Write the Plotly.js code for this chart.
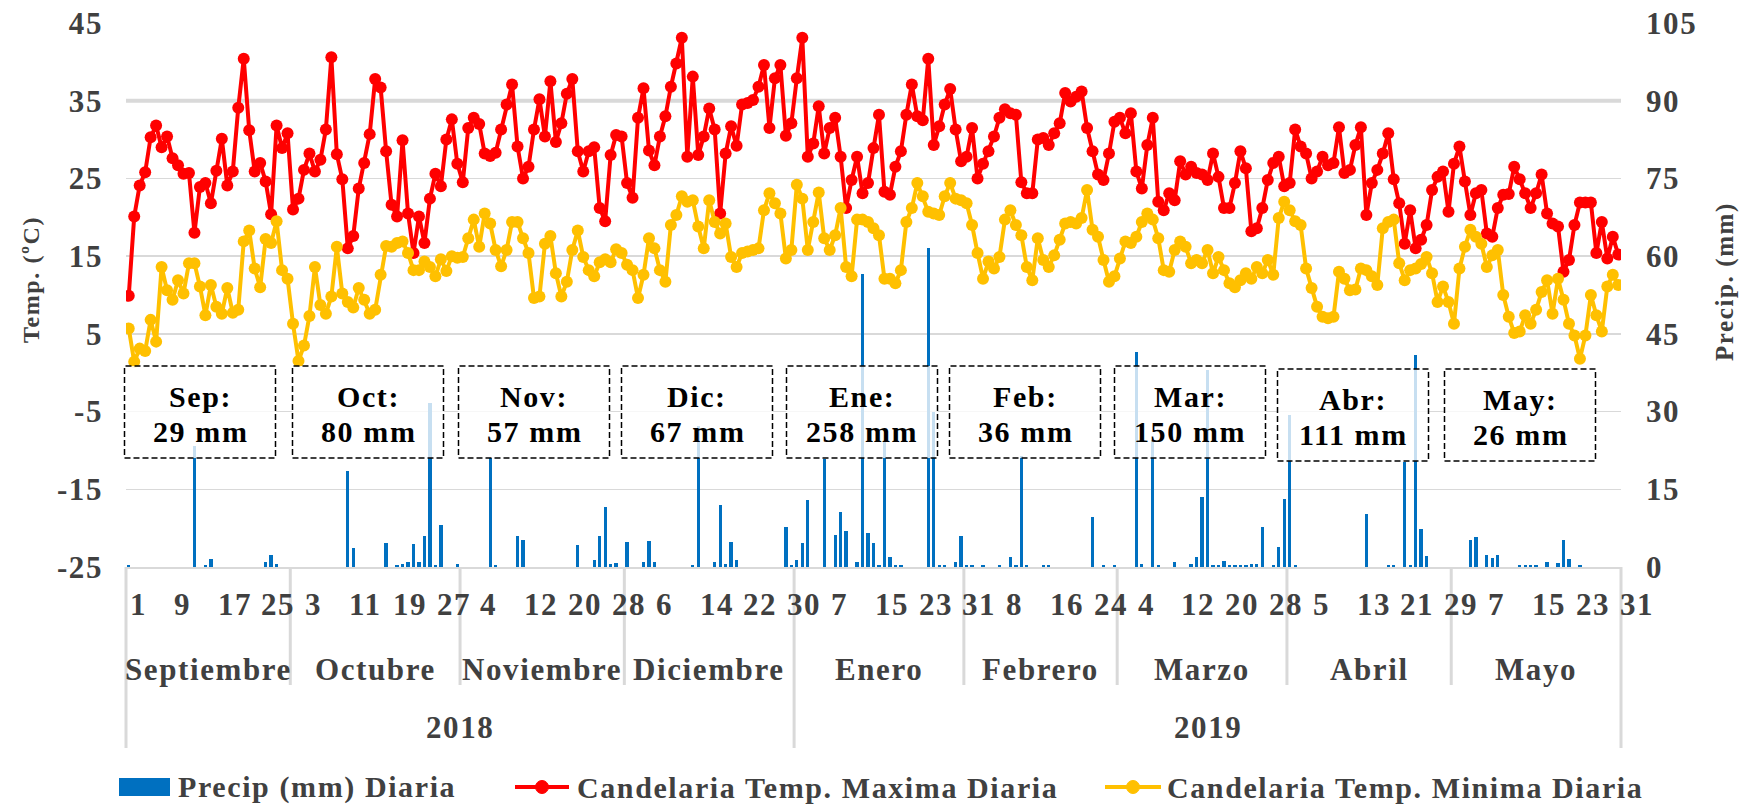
<!DOCTYPE html>
<html><head><meta charset="utf-8">
<script src="https://cdn.plot.ly/plotly-3.0.1.min.js"></script>
<style>
html,body{margin:0;padding:0;background:#fff}
#chart{width:1755px;height:804px}
svg text{font-family:"Liberation Serif",serif !important;letter-spacing:1.6px;}
</style>
</head><body><div id="chart"></div>
<script>
// ---------------- DATA ----------------
const monthNames = ['Septiembre','Octubre','Noviembre','Diciembre','Enero','Febrero','Marzo','Abril','Mayo'];
const monthDays  = [30,31,30,31,31,28,31,30,31];
const yearNames  = ['2018','2019'];
const yearMonths = [4,5];
const boxLabels  = ['Sep:','Oct:','Nov:','Dic:','Ene:','Feb:','Mar:','Abr:','May:'];
const boxTotals  = ['29 mm','80 mm','57 mm','67 mm','258 mm','36 mm','150 mm','111 mm','26 mm'];
const seriesNames = ['Precip (mm) Diaria','Candelaria Temp. Maxima Diaria','Candelaria Temp. Minima Diaria'];
const tempTicks  = [-25,-15,-5,5,15,25,35,45];
const tempTickText = ['-25','-15','-5','5','15','25','35','45'];
const precTicks  = [0,15,30,45,60,75,90,105];

// Daily precipitation (mm), Sep 1 2018 .. May 31 2019
const precip = [
 0.4,0,0,0,0,0,0,0,0,0, 0,0,23.4,0,0.3,1.6,0,0,0,0, 0,0,0,0,0,1.0,2.3,0.5,0,0,
 0,0,0,0,0,0,0,0,0,0, 18.5,3.6,0,0,0,0,0,4.7,0,0.3, 0.6,0.9,4.4,0.9,6.0,31.7,0.3,8.1,0,0, 0.6,
 0,0,0,0,0,21.0,0.3,0,0,0, 5.9,5.3,0,0,0,0,0,0,0,0, 0,4.2,0,0,1.4,5.9,11.5,0.5,0.8,0,
 4.8,0,0,1.0,5.0,1.0,0,0,0,0, 0,0,0.3,27.2,0,0,1.0,11.9,0.5,4.8, 1.4,0,0,0,0,0,0,0,0,7.8, 0.3,
 1.4,4.6,12.9,0,0,20.8,0,6.2,10.7,7.0, 0,1.0,56.6,6.6,4.7,0.3,24.2,1.9,0.3,0.3, 0,0,0,0,61.5,30.0,0.3,0.3,0,1.0, 5.9,
 0.3,0.3,0,0.3,0,0,0.3,0,2.0,0.3, 21.5,0.3,0,0,0.3,0.3,0,0,0,0, 0,0,0,9.6,0,0.3,0,0.3,
 0,0,0,41.5,0.6,0,24.5,0.3,0,0, 1.0,0,0,0.6,1.9,13.6,38.0,0.3,0.3,1.2, 0.3,0.3,0.3,0.3,0.5,0.5,7.8,0,0.3,3.9, 13.1,
 29.4,0.3,0,0,0,0,0,0,0,0, 0,0,0,0,10.2,0,0,0,0.3,0.3, 0,20.2,0.3,41.0,7.3,2.1,0,0,0,0,
 0,0,0,5.2,5.7,0,2.3,1.8,2.4,0, 0,0,0.3,0.3,0.3,0.3,0,1.0,0,0.8, 5.2,1.5,0,0.3,0,0,0,0,0,0, 0
];

// Daily maximum temperature (ºC)
const tmax = [
 9.9,20.1,24.1,25.8,30.3,31.8,29.0,30.4,27.6,26.7, 25.6,25.7,18.0,23.9,24.4,21.8,26.0,30.1,24.1,25.9, 34.1,40.4,31.2,25.9,27.0,24.6,20.4,31.8,28.9,30.8,
 21.0,22.4,26.1,28.2,25.9,27.4,31.3,40.6,28.1,24.9, 16.0,17.6,23.7,27.0,30.7,37.8,36.7,28.5,21.6,20.1, 29.9,20.5,15.4,20.1,16.7,22.4,25.6,24.0,30.0,32.6, 26.9,
 24.5,31.5,32.8,32.0,28.2,27.9,28.3,31.3,34.5,37.1, 29.1,25.0,26.5,31.3,35.2,30.4,37.5,29.7,32.1,35.9, 37.8,28.5,25.9,28.5,29.0,21.2,19.5,28.0,30.6,30.4,
 24.4,22.5,32.8,36.6,28.6,26.7,30.4,33.0,36.8,39.8, 43.1,27.8,38.1,28.0,30.4,34.0,31.3,20.5,28.2,31.7, 29.2,34.5,34.7,35.1,36.8,39.6,31.5,37.9,39.6,30.5, 32.1,
 37.9,43.1,27.8,29.5,34.3,28.2,31.5,32.8,27.8,21.2, 24.8,27.8,23.1,24.4,28.9,33.2,23.3,22.9,26.5,28.5, 33.2,37.1,33.0,32.5,40.4,29.3,31.7,34.5,36.5,31.3, 27.2,
 27.8,31.5,25.0,26.9,28.5,30.4,32.8,33.9,33.4,33.2, 24.5,23.1,23.1,30.0,30.2,29.3,30.8,32.1,36.0,34.9, 35.5,36.2,31.5,28.5,25.5,24.8,28.2,32.3,
 32.8,30.8,33.4,25.9,23.7,29.3,32.8,22.0,20.9,23.1, 22.2,27.2,25.5,26.5,25.7,25.5,24.8,28.2,25.2,21.2, 21.2,24.4,28.5,26.3,18.2,18.6,21.2,24.8,27.0,27.8, 24.0,
 24.4,31.3,29.1,28.2,25.0,25.9,27.8,26.7,27.0,31.6, 25.7,26.1,29.3,31.6,20.3,24.4,26.1,28.2,30.8,24.9, 21.8,16.6,20.9,16.0,17.1,19.0,23.5,25.2,25.9,20.7,
 26.9,29.1,24.6,20.3,23.1,23.5,17.9,17.5,21.2,22.9, 23.0,26.5,24.9,23.1,21.2,23.1,25.5,20.5,19.2,18.8, 13.0,14.5,19.0,21.9,21.9,21.9,15.4,19.4,14.7,17.5, 15.2
];

// Daily minimum temperature (ºC)
const tmin = [
 5.7,1.4,3.1,2.8,6.8,4.0,13.6,10.6,9.4,11.9, 10.2,14.1,14.1,11.1,7.4,11.3,8.5,7.6,10.9,7.7, 8.1,16.9,18.3,13.4,11.0,17.2,16.7,19.5,13.2,12.1,
 6.3,1.5,3.5,7.3,13.6,8.7,7.6,9.8,16.2,10.2, 9.1,8.4,10.9,9.4,7.6,8.1,12.6,16.3,16.2,16.7, 16.9,15.4,13.2,13.2,14.3,13.6,12.4,14.6,13.1,15.0, 14.8,
 14.9,17.3,19.7,16.2,20.5,19.2,15.8,13.7,15.8,19.4, 19.4,17.3,15.4,9.6,9.8,16.6,17.6,12.8,9.8,11.7, 15.8,18.3,14.9,13.2,12.4,14.2,14.6,14.2,15.9,15.4,
 13.9,13.2,9.6,12.6,17.3,16.0,13.2,11.7,19.0,20.3, 22.7,22.0,22.2,18.8,16.0,22.2,19.4,17.9,19.2,14.9, 13.6,15.4,15.6,15.8,16.0,20.9,23.1,21.8,20.5,14.7, 15.8,
 24.2,22.4,15.8,19.4,23.2,17.3,15.8,17.7,21.2,13.6, 12.4,19.7,19.7,19.4,18.6,17.7,12.1,12.1,11.5,13.2, 19.4,21.2,24.4,22.7,20.7,20.5,20.3,22.7,24.4,22.4, 22.2,
 21.8,19.0,15.4,12.1,14.3,13.4,14.9,19.7,20.9,19.0, 17.7,13.6,11.9,17.3,14.5,13.6,15.1,17.1,19.2,19.4, 19.2,19.9,23.5,18.4,17.5,14.5,11.7,12.4,
 14.7,16.9,16.7,17.5,19.4,20.5,19.7,17.3,13.2,13.0, 15.8,16.9,16.2,14.1,14.5,14.1,15.8,12.8,14.9,13.2, 11.5,11.0,11.9,12.8,12.1,13.6,12.8,14.5,12.6,19.9, 22.0,
 20.9,19.5,19.0,13.4,10.9,8.5,7.2,7.0,7.2,13.0, 12.1,10.6,10.7,13.4,13.2,12.4,11.3,18.6,19.4,19.7, 14.1,11.9,13.2,13.4,14.0,14.9,12.8,9.1,11.1,9.1,
 6.3,13.4,16.2,18.4,17.5,16.6,13.6,15.1,15.8,10.0, 7.2,5.1,5.3,7.4,6.3,8.1,10.4,11.9,7.6,12.1, 9.4,6.3,4.8,1.8,4.8,10.0,7.4,5.3,11.1,12.6, 11.3
];

// ---------------- BUILD ----------------
const FONT = 'Liberation Serif';
const GREY = '#404040';
const BLUE = '#0070C0', RED = '#FF0000', YEL = '#FFC000';
const dayOfMonth = [];
const monthStart = [];
monthDays.forEach(n => { monthStart.push(dayOfMonth.length); for (let d = 1; d <= n; d++) dayOfMonth.push(d); });
const N = dayOfMonth.length;
const xs = dayOfMonth.map((_, i) => i);

// plot geometry (px)
const W = 1755, H = 804;
const M = {l: 126, r: 134, t: 23, b: 237};
const PW = W - M.l - M.r, PH = H - M.t - M.b;
const px2x = p => (p - M.l) / PW;
const py2y = p => (H - M.b - p) / PH;
const bold = (size, color) => ({family: FONT, size: size, color: color || GREY, weight: 'bold'});

const traces = [
  {type: 'bar', x: xs, y: precip, yaxis: 'y', name: seriesNames[0],
   marker: {color: BLUE}, width: 0.6, showlegend: false},
  {type: 'scatter', mode: 'lines+markers', x: xs, y: tmax, yaxis: 'y2', name: seriesNames[1],
   line: {color: RED, width: 4}, marker: {color: RED, size: 12}, showlegend: false},
  {type: 'scatter', mode: 'lines+markers', x: xs, y: tmin, yaxis: 'y2', name: seriesNames[2],
   line: {color: YEL, width: 4}, marker: {color: YEL, size: 12}, showlegend: false}
];

const shapes = [];
const annotations = [];

// thicker grid line at 90 mm / 35 ºC
shapes.push({type: 'line', xref: 'paper', yref: 'y', x0: 0, x1: 1, y0: 90, y1: 90,
  line: {color: '#d9d9d9', width: 4}, layer: 'below'});

// month / year dividers below the axis
const yearStarts = [0];
let acc = 0;
yearMonths.forEach(c => { acc += c; yearStarts.push(acc < monthStart.length ? monthStart[acc] : N); });
monthStart.concat([N]).forEach(k => {
  const isYear = yearStarts.includes(k);
  shapes.push({type: 'line', xref: 'paper', yref: 'paper', x0: k / N, x1: k / N,
    y0: 0, y1: py2y(isYear ? 748 : 685), line: {color: '#d9d9d9', width: 3}, layer: 'below'});
});

// day tick labels every 8 days
for (let i = 0; i < N; i += 8) {
  annotations.push({xref: 'x', yref: 'paper', x: i - 0.5, y: py2y(604), xanchor: 'left', yanchor: 'middle',
    text: String(dayOfMonth[i]), showarrow: false, xshift: 2, font: bold(31)});
}
// month labels
monthNames.forEach((m, j) => {
  const c = monthStart[j] + (monthDays[j] - 1) / 2;
  annotations.push({xref: 'x', yref: 'paper', x: c, y: py2y(669), xanchor: 'center', yanchor: 'middle',
    text: m, showarrow: false, font: bold(31)});
});
// year labels
let mi = 0;
yearNames.forEach((yname, j) => {
  const s = monthStart[mi];
  mi += yearMonths[j];
  const e = mi < monthStart.length ? monthStart[mi] : N;
  annotations.push({xref: 'x', yref: 'paper', x: (s + e - 1) / 2, y: py2y(727), xanchor: 'center', yanchor: 'middle',
    text: yname, showarrow: false, font: bold(31)});
});

// monthly total boxes
const boxCentersPx = [200, 368, 534, 697, 862, 1025, 1190, 1353, 1520];
boxLabels.forEach((lab, j) => {
  const cx = boxCentersPx[j], half = 75.5;
  const off = j >= 7 ? 3 : 0;
  const top = 366 + off, bot = 458 + off;
  shapes.push({type: 'rect', xref: 'paper', yref: 'paper', x0: px2x(cx - half), x1: px2x(cx + half),
    y0: py2y(bot), y1: py2y(top), fillcolor: 'rgba(255,255,255,0.78)',
    line: {color: '#000', width: 1.5, dash: '6px,3px'}, layer: 'above'});
  annotations.push({xref: 'paper', yref: 'paper', x: px2x(cx), y: py2y(396 + off),
    xanchor: 'center', yanchor: 'middle', showarrow: false, text: lab, font: bold(30, '#000')});
  annotations.push({xref: 'paper', yref: 'paper', x: px2x(cx), y: py2y(431 + off),
    xanchor: 'center', yanchor: 'middle', showarrow: false, text: boxTotals[j], font: bold(30, '#000')});
});

// axis titles
annotations.push({xref: 'paper', yref: 'paper', x: px2x(31), y: py2y(280), textangle: -90,
  xanchor: 'center', yanchor: 'middle', showarrow: false, text: 'Temp. (ºC)', font: bold(24)});
annotations.push({xref: 'paper', yref: 'paper', x: px2x(1725), y: py2y(282), textangle: -90,
  xanchor: 'center', yanchor: 'middle', showarrow: false, text: 'Precip. (mm)', font: bold(25)});

// legend (drawn manually to match the wide symbols)
const LY = 787;
shapes.push({type: 'rect', xref: 'paper', yref: 'paper', x0: px2x(119), x1: px2x(170),
  y0: py2y(LY + 9), y1: py2y(LY - 9), fillcolor: BLUE, line: {width: 0}});
[[515, 569, RED], [1105, 1161, YEL]].forEach(([a, b, col]) => {
  shapes.push({type: 'line', xref: 'paper', yref: 'paper', x0: px2x(a), x1: px2x(b),
    y0: py2y(LY), y1: py2y(LY), line: {color: col, width: 4}});
  const c = (a + b) / 2;
  shapes.push({type: 'circle', xref: 'paper', yref: 'paper', x0: px2x(c - 6.5), x1: px2x(c + 6.5),
    y0: py2y(LY + 6.5), y1: py2y(LY - 6.5), fillcolor: col, line: {color: col, width: 1}});
});
[[176, seriesNames[0]], [575, seriesNames[1]], [1165, seriesNames[2]]].forEach(([x, t]) => {
  annotations.push({xref: 'paper', yref: 'paper', x: px2x(x), y: py2y(LY), xanchor: 'left', yanchor: 'middle',
    showarrow: false, text: t, font: bold(30)});
});

const layout = {
  width: W, height: H, margin: M,
  paper_bgcolor: '#fff', plot_bgcolor: '#fff',
  font: {family: FONT},
  showlegend: false, bargap: 0,
  xaxis: {range: [-0.5, N - 0.5], showgrid: false, zeroline: false, showticklabels: false,
    ticks: '', showline: true, linecolor: '#d9d9d9', linewidth: 2, fixedrange: true, automargin: false},
  yaxis: {range: [0, 105], tickvals: precTicks, side: 'right',
    showgrid: true, gridcolor: '#d9d9d9', gridwidth: 1.5, zeroline: false,
    tickfont: bold(31), ticks: '', ticklabelstandoff: 24, fixedrange: true, automargin: false},
  yaxis2: {range: [-25, 45], tickvals: tempTicks, ticktext: tempTickText, overlaying: 'y', side: 'left',
    showgrid: false, zeroline: false, tickfont: bold(31), ticks: '', ticklabelstandoff: 22,
    fixedrange: true, automargin: false},
  shapes: shapes,
  annotations: annotations
};

Plotly.newPlot('chart', traces, layout, {displayModeBar: false, staticPlot: true});
</script>
</body></html>
